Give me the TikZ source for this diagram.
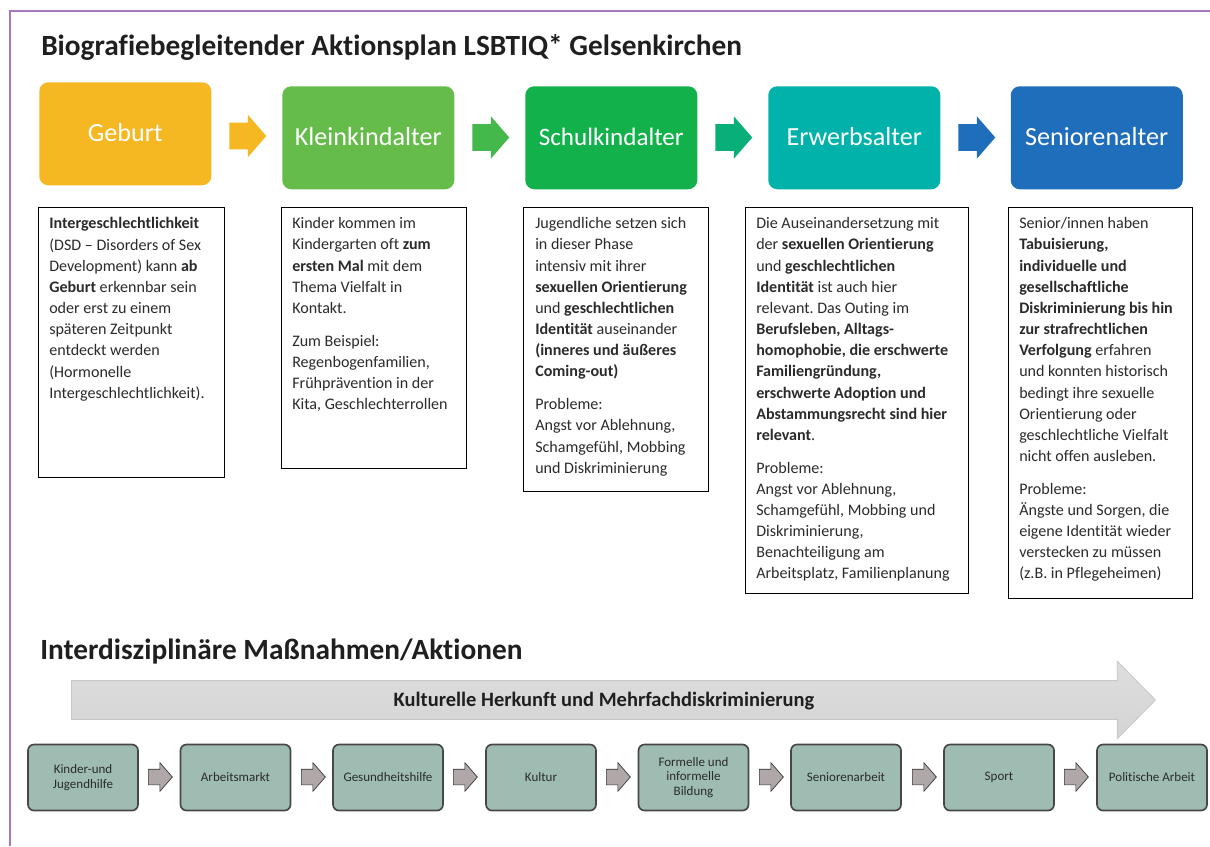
\documentclass[tikz,border=0pt]{standalone}
\usepackage{fontspec}
\setmainfont[Ligatures=NoCommon]{Carlito}
\usetikzlibrary{shapes.arrows}
\definecolor{bordc}{HTML}{A678BE}
\definecolor{txt}{HTML}{2B2B2B}
\definecolor{cA}{HTML}{F5B722}
\definecolor{cB}{HTML}{66BC4A}
\definecolor{cC}{HTML}{12B14B}
\definecolor{cD}{HTML}{00B2A9}
\definecolor{cE}{HTML}{1F6EBB}
\definecolor{aB}{HTML}{45B84B}
\definecolor{aC}{HTML}{08AF78}
\definecolor{sF}{HTML}{9EBCB2}
\definecolor{sA}{HTML}{B0A8A8}
\def\pxx{0.75pt}
\frenchspacing
\newcommand{\bodyf}{\frenchspacing\fontsize{12.05}{15.87}\selectfont}
\tikzset{
  x=0.75pt,y=-0.75pt,
  stage/.style={fill=#1,draw=none,rounded corners=9*\pxx,minimum width=172*\pxx,minimum height=103*\pxx,anchor=north west,inner sep=0pt,text=white,text height=16.2pt,text depth=5pt,font=\fontsize{19.6}{22}\selectfont},
  card/.style={draw=black,line width=0.8pt,fill=white,anchor=north west,inner sep=0pt},
  cardtext/.style={anchor=north west,inner sep=0pt,align=left,text=txt,font=\bodyf},
  head/.style={anchor=base west,inner sep=0pt,text=black!88,font=\fontsize{22}{26}\selectfont\bfseries},
  bigarr/.style={single arrow,anchor=tail,fill=#1,draw=none,minimum height=37*\pxx,minimum width=42*\pxx,inner xsep=0pt,inner ysep=13*\pxx,single arrow head extend=8*\pxx,single arrow tip angle=98,single arrow head indent=0pt},
  small/.style={draw=black!72,line width=1.25pt,fill=sF,rounded corners=6*\pxx,minimum width=110*\pxx,minimum height=66*\pxx,inner sep=0pt,align=center,text=txt,font=\fontsize{9.75}{10.9}\selectfont},
  smallarr/.style={single arrow,anchor=tail,fill=sA,draw=black!80,line width=0.5pt,minimum height=24*\pxx,minimum width=28*\pxx,inner xsep=0pt,inner ysep=7.5*\pxx,single arrow head extend=6.5*\pxx,single arrow tip angle=98,single arrow head indent=0pt},
}
\begin{document}
\begin{tikzpicture}
\useasboundingbox (0,0) rectangle (1210,846);
\fill[white] (0,0) rectangle (1210,846);
\draw[bordc,line width=1pt] (1210,11) -- (10,11) -- (10,846);

\node[head] (title) at (41,55) {Biografiebegleitender Aktionsplan LSBTIQ* Gelsenkirchen};

\node[stage=cA] (s1) at (39,82) {Geburt};
\node[stage=cB] (s2) at (282,86) {Kleinkindalter};
\node[stage=cC,font=\fontsize{18.8}{22}\selectfont] (s3) at (525,86) {Schulkindalter};
\node[stage=cD] (s4) at (768,86) {Erwerbsalter};
\node[stage=cE] (s5) at (1010.5,86) {Seniorenalter};

\node[bigarr=cA] (a1) at (229,136) {};
\node[bigarr=aB] (a2) at (472,137.5) {};
\node[bigarr=aC] (a3) at (715,137.5) {};
\node[bigarr=cE] (a4) at (958,137.5) {};

\node[card,minimum width=186*\pxx,minimum height=270*\pxx] (c1) at (37.5,207) {};
\node[card,minimum width=185*\pxx,minimum height=261*\pxx] (c2) at (281,207) {};
\node[card,minimum width=185*\pxx,minimum height=284*\pxx] (c3) at (523,207) {};
\node[card,minimum width=223*\pxx,minimum height=386*\pxx] (c4) at (745,207) {};
\node[card,minimum width=184*\pxx,minimum height=391*\pxx] (c5) at (1008,207) {};

\node[cardtext] (t1) at (49,217.4) {\textbf{Intergeschlechtlichkeit}\\
(DSD – Disorders of Sex\\
Development) kann \textbf{ab}\\
\textbf{Geburt} erkennbar sein\\
oder erst zu einem\\
späteren Zeitpunkt\\
entdeckt werden\\
(Hormonelle\\
Intergeschlechtlichkeit).};

\node[cardtext] (t2) at (292,217.4) {Kinder kommen im\\
Kindergarten oft \textbf{zum}\\
\textbf{ersten Mal} mit dem\\
Thema Vielfalt in\\
Kontakt.\\[8.7pt]
Zum Beispiel:\\
Regenbogenfamilien,\\
Frühprävention in der\\
Kita, Geschlechterrollen};

\node[cardtext] (t3) at (535,217.4) {Jugendliche setzen sich\\
in dieser Phase\\
intensiv mit ihrer\\
\textbf{sexuellen Orientierung}\\
und \textbf{geschlechtlichen}\\
\textbf{Identität} auseinander\\
\textbf{(inneres und äußeres}\\
\textbf{Coming-out)}\\[8.7pt]
Probleme:\\
Angst vor Ablehnung,\\
Schamgefühl, Mobbing\\
und Diskriminierung};

\node[cardtext] (t4) at (756,217.4) {Die Auseinandersetzung mit\\
der \textbf{sexuellen Orientierung}\\
und \textbf{geschlechtlichen}\\
\textbf{Identität} ist auch hier\\
relevant. Das Outing im\\
\textbf{Berufsleben, Alltags-}\\
\textbf{homophobie, die erschwerte}\\
\textbf{Familiengründung,}\\
\textbf{erschwerte Adoption und}\\
\textbf{Abstammungsrecht sind hier}\\
\textbf{relevant}.\\[8.7pt]
Probleme:\\
Angst vor Ablehnung,\\
Schamgefühl, Mobbing und\\
Diskriminierung,\\
Benachteiligung am\\
Arbeitsplatz, Familienplanung};

\node[cardtext] (t5) at (1019,217.4) {Senior/innen haben\\
\textbf{Tabuisierung,}\\
\textbf{individuelle und}\\
\textbf{gesellschaftliche}\\
\textbf{Diskriminierung bis hin}\\
\textbf{zur strafrechtlichen}\\
\textbf{Verfolgung} erfahren\\
und konnten historisch\\
bedingt ihre sexuelle\\
Orientierung oder\\
geschlechtliche Vielfalt\\
nicht offen ausleben.\\[8.7pt]
Probleme:\\
Ängste und Sorgen, die\\
eigene Identität wieder\\
verstecken zu müssen\\
(z.B. in Pflegeheimen)};

\node[head] (title2) at (40,659) {Interdisziplinäre Maßnahmen/Aktionen};

\node[single arrow,anchor=tail,draw=black!22,line width=0.6pt,top color=black!13,bottom color=black!17,minimum height=1084*\pxx,minimum width=77*\pxx,inner xsep=0pt,inner ysep=19*\pxx,single arrow head extend=19.5*\pxx,single arrow tip angle=91,single arrow head indent=0pt] (band) at (71,700) {};
\node[inner sep=0pt,text=black!88,font=\fontsize{15.35}{18}\selectfont\bfseries] (bandt) at (604,701.5) {Kulturelle Herkunft und Mehrfachdiskriminierung};

\node[small] (b1) at (83,777.5) {Kinder-und\\Jugendhilfe};
\node[small] (b2) at (235.5,777.5) {Arbeitsmarkt};
\node[small] (b3) at (388,777.5) {Gesundheitshilfe};
\node[small] (b4) at (541,777.5) {Kultur};
\node[small] (b5) at (693.5,777.5) {Formelle und\\informelle\\Bildung};
\node[small] (b6) at (846,777.5) {Seniorenarbeit};
\node[small] (b7) at (999,777.5) {Sport};
\node[small] (b8) at (1152,777.5) {Politische Arbeit};

\foreach \x/\n in {148/1,301/2,453/3,606/4,759/5,912/6,1064/7}
  \node[smallarr] (sa\n) at (\x,777) {};
\end{tikzpicture}
\end{document}
